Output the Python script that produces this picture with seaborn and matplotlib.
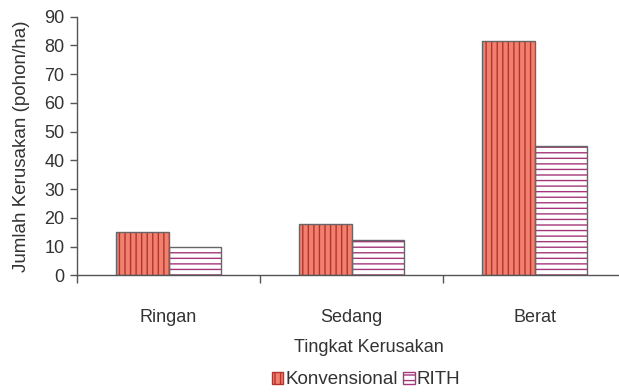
import matplotlib
matplotlib.use("Agg")
import matplotlib.pyplot as plt
import seaborn as sns
import pandas as pd
from matplotlib.patches import Rectangle
from matplotlib.ticker import FixedLocator

# Data
categories = ["Ringan", "Sedang", "Berat"]
series_names = ["Konvensional", "RITH"]
konvensional = [15, 18, 81.5]
rith = [10, 12.5, 45]
y_ticks = list(range(0, 91, 10))

df = pd.DataFrame({
    "Tingkat": categories * 2,
    "Metode": [series_names[0]] * len(categories) + [series_names[1]] * len(categories),
    "Jumlah": konvensional + rith,
})

sns.set_theme(style="white")
plt.rcParams["font.family"] = ["Liberation Sans", "DejaVu Sans"]
plt.rcParams["hatch.linewidth"] = 1.0

FS_TICK = 13
FS_LABEL = 13.5
TXT = "#333333"
AXC = "#555555"

fills = {"Konvensional": "#F1806F", "RITH": "#FFFFFF"}
hatch_colors = {"Konvensional": "#B3342C", "RITH": "#A4377A"}
hatches = {"Konvensional": "|||", "RITH": "---"}

fig = plt.figure(figsize=(6.19, 3.92), dpi=100)
ax = fig.add_axes([0.1244, 0.2972, 0.887, 0.6607])

sns.barplot(data=df, x="Tingkat", y="Jumlah", hue="Metode",
            order=categories, hue_order=series_names, palette=fills,
            width=0.57, dodge=True, saturation=1, ax=ax, legend=False)

# Hatch each series, then outline every bar in gray on top
for name, container in zip(series_names, ax.containers):
    for bar in container:
        bar.set_hatch(hatches[name])
        bar.set_edgecolor(hatch_colors[name])
        bar.set_linewidth(0)
        ax.add_patch(Rectangle(bar.get_xy(), bar.get_width(), bar.get_height(),
                               facecolor="none", edgecolor="#666666",
                               linewidth=1.0, zorder=bar.get_zorder() + 0.1))

ax.set_xlim(-0.5, 2.5)
ax.set_ylim(0, 90)
ax.yaxis.set_major_locator(FixedLocator(y_ticks))
ax.xaxis.set_minor_locator(FixedLocator([-0.5, 0.5, 1.5, 2.5]))

ax.tick_params(axis="y", which="major", left=True, direction="out", length=5,
               width=1, color=AXC, pad=4, labelsize=FS_TICK, labelcolor=TXT)
ax.tick_params(axis="x", which="minor", bottom=True, direction="out", length=6,
               width=1, color=AXC)
ax.tick_params(axis="x", which="major", bottom=True, length=0, pad=24,
               labelsize=FS_TICK, labelcolor=TXT)

sns.despine(ax=ax)
for side in ("left", "bottom"):
    ax.spines[side].set_color(AXC)
    ax.spines[side].set_linewidth(1.0)

ax.set_xlabel("Tingkat Kerusakan", fontsize=FS_TICK, color=TXT)
ax.xaxis.set_label_coords(0.532, -0.245)
ax.set_ylabel("Jumlah Kerusakan (pohon/ha)", fontsize=FS_LABEL, color=TXT, labelpad=10)

handles = [Rectangle((0, 0), 1, 1, facecolor=fills[n], edgecolor=hatch_colors[n],
                     hatch=hatches[n], linewidth=1.0) for n in series_names]
fig.legend(handles, series_names, loc="center", bbox_to_anchor=(366 / 619, 1 - 380 / 392),
           ncol=2, frameon=False, handlelength=0.6, handleheight=0.6,
           handletextpad=0.1, columnspacing=0.3, borderpad=0, fontsize=FS_LABEL,
           labelcolor=TXT)

fig.savefig("out.png", dpi=100)
